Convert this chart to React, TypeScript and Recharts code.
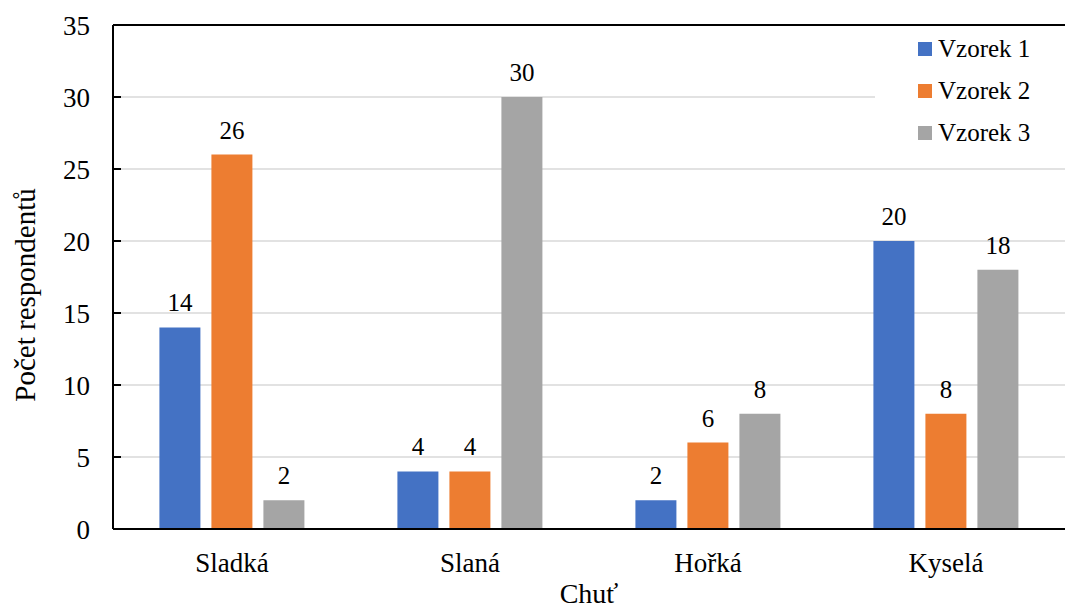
import {
  Bar,
  BarChart,
  CartesianGrid,
  LabelList,
  ReferenceLine,
  XAxis,
  YAxis,
  Label,
} from "recharts";

const categories = ["Sladká", "Slaná", "Hořká", "Kyselá"];
const vzorek1 = [14, 4, 2, 20];
const vzorek2 = [26, 4, 6, 8];
const vzorek3 = [2, 30, 8, 18];
const yTicks = [0, 5, 10, 15, 20, 25, 30, 35];

const series = [
  { key: "v1", name: "Vzorek 1", color: "#4472C4" },
  { key: "v2", name: "Vzorek 2", color: "#ED7D31" },
  { key: "v3", name: "Vzorek 3", color: "#A5A5A5" },
];

const data = categories.map((c, i) => ({
  cat: c,
  v1: vzorek1[i],
  v2: vzorek2[i],
  v3: vzorek3[i],
}));

const FONT = '"Liberation Serif", "Times New Roman", serif';

function LegendBox() {
  return (
    <div
      style={{
        position: "absolute",
        left: 875,
        top: 28,
        width: 190,
        height: 128,
        background: "#fff",
      }}
    >
      {series.map((s) => (
        <div
          key={s.key}
          style={{
            display: "flex",
            alignItems: "center",
            height: 42,
            paddingLeft: 43,
            fontFamily: FONT,
            fontSize: 25,
            color: "#000",
          }}
        >
          <span style={{ width: 14, height: 14, background: s.color, marginRight: 6 }} />
          {s.name}
        </div>
      ))}
    </div>
  );
}

function YTitle() {
  return (
    <text
      x={25}
      y={295}
      transform="rotate(-90, 25, 295)"
      textAnchor="middle"
      dominantBaseline="central"
      fontFamily={FONT}
      fontSize={29}
      fill="#000"
    >
      Počet respondentů
    </text>
  );
}

export default function App() {
  return (
    <div style={{ position: "absolute", left: 0, top: 0, width: 1065, height: 612, background: "#fff" }}>
      <BarChart
        width={1065}
        height={612}
        data={data}
        margin={{ top: 25, right: 0, left: 0, bottom: 0 }}
        barCategoryGap="19.5%"
        barGap={11}
      >
        <CartesianGrid vertical={false} stroke="#d9d9d9" strokeWidth={1.5} />
        <XAxis
          dataKey="cat"
          height={83}
          tickLine={false}
          tickSize={0}
          tickMargin={24}
          axisLine={{ stroke: "#000", strokeWidth: 2 }}
          tick={{ fill: "#000", fontFamily: FONT, fontSize: 27 }}
        >
          <Label
            value="Chuť"
            position="insideBottom"
            offset={9}
            style={{ fill: "#000", fontFamily: FONT, fontSize: 28 }}
          />
        </XAxis>
        <YAxis
          width={113}
          domain={[0, 35]}
          ticks={yTicks}
          interval={0}
          tickSize={-8}
          tickMargin={31}
          tickLine={{ stroke: "#000", strokeWidth: 2 }}
          axisLine={{ stroke: "#000", strokeWidth: 2 }}
          tick={{ fill: "#000", fontFamily: FONT, fontSize: 27 }}
        >
          <Label content={<YTitle />} />
        </YAxis>
        <ReferenceLine y={35} stroke="#000" strokeWidth={2} />
        {series.map((s) => (
          <Bar key={s.key} dataKey={s.key} name={s.name} fill={s.color} isAnimationActive={false}>
            <LabelList
              dataKey={s.key}
              position="top"
              offset={16}
              style={{ fill: "#000", fontFamily: FONT, fontSize: 25 }}
            />
          </Bar>
        ))}
      </BarChart>
      <LegendBox />
    </div>
  );
}
